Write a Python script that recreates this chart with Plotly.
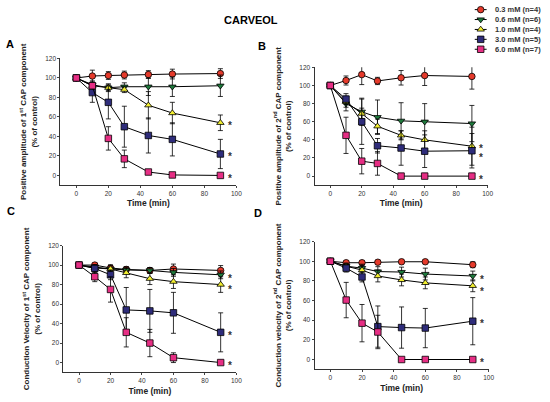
import plotly.graph_objects as go

time = [0, 10, 20, 30, 45, 60, 90]
doses = ["0.3 mM (n=4)", "0.6 mM (n=6)", "1.0 mM (n=4)", "3.0 mM (n=5)", "6.0 mM (n=7)"]
colors = ["#e53a2b", "#1e7a3c", "#f2ee30", "#2e2c7a", "#e62e84"]
symbols = ["circle", "triangle-down", "triangle-up", "square", "square"]

# panel A - positive amplitude 1st CAP
A_vals = [[100, 102, 102.5, 103, 103.5, 104, 104.5],
          [100, 93, 90, 91, 91, 91, 92],
          [100, 92, 90, 88, 72, 64, 54],
          [100, 85, 75, 50, 41, 37, 22],
          [100, 92, 38, 17, 3.5, 0.5, 0]]
A_errs = [[1, 6, 4, 4, 4, 5, 5],
          [1, 4, 4, 4, 9, 10, 11],
          [1, 3, 3, 3, 14, 11, 8],
          [1, 10, 17, 21, 18, 17, 15],
          [1, 2, 12, 9, 1, 0.5, 0]]
A_star_y = [54, 22, 0]

# panel B - positive amplitude 2nd CAP
B_vals = [[100, 105.5, 112, 105, 108.5, 111, 110],
          [100, 80, 71, 65, 61, 60, 58],
          [100, 82, 69, 55, 45, 40, 33],
          [100, 85, 60, 33.5, 31, 27.5, 28],
          [100, 45, 16.5, 14, 0, 0, 0]]
B_errs = [[1, 5, 11, 4, 8, 11, 14],
          [1, 8, 15, 19, 20, 20, 20],
          [1, 6, 6, 8, 5, 10, 21],
          [1, 6, 25, 8, 19, 18, 19],
          [1, 20, 14, 13, 0, 0, 0]]
B_star_y = [34, 24, 0]

# panel C - conduction velocity 1st CAP
C_vals = [[100, 100, 97, 95.5, 94.5, 96, 94.5],
          [100, 98, 96, 95, 94.5, 92.5, 90],
          [100, 97, 96, 92, 86, 83, 80],
          [100, 96.5, 90, 54, 53, 51, 31],
          [100, 88, 75, 31, 20, 5, 0]]
C_errs = [[1, 2, 3, 3, 3, 5, 5],
          [1, 2, 3, 3, 3, 4, 4],
          [1, 3, 4, 5, 6, 7, 8],
          [1, 4, 5, 23, 22, 21, 20],
          [1, 5, 13, 15, 14, 5, 0]]
C_star_y = [89.5, 78, 31, 0]

# panel D - conduction velocity 2nd CAP
D_vals = [[100, 98.5, 98.5, 99, 99.5, 99.5, 96.5],
          [100, 95, 93, 89.5, 89, 87, 85],
          [100, 95, 91, 85, 81, 78, 75],
          [100, 93, 84, 33.5, 32.5, 32, 39],
          [100, 60.5, 37, 28, 0, 0, 0]]
D_errs = [[1, 2, 2, 2, 2, 2, 3],
          [1, 3, 4, 5, 5, 6, 5],
          [1, 3, 5, 6, 6, 6, 6],
          [1, 4, 5, 21, 21, 20, 24],
          [1, 18, 19, 17, 0, 0, 0]]
D_star_y = [85, 72, 40, 0]

FONT = "Arial, Liberation Sans, sans-serif"
W, H = 550, 402


def px(x):
    return x / W


def py(y):
    return 1 - y / H


panels = [
    ("A", A_vals, A_errs, A_star_y, "", [px(61), px(239)], [py(183), py(55)],
     "Positive amplitude of 1<sup>st</sup> CAP component<br>(% of control)"),
    ("B", B_vals, B_errs, B_star_y, "2", [px(318), px(493)], [py(183), py(64)],
     "Positive amplitude of 2<sup>nd</sup> CAP component<br>(% of control)"),
    ("C", C_vals, C_errs, C_star_y, "3", [px(64), px(239)], [py(372), py(244)],
     "Conduction Velocity of 1<sup>st</sup> CAP component<br>(% of control)"),
    ("D", D_vals, D_errs, D_star_y, "4", [px(318), px(494)], [py(369), py(240)],
     "Conduction velocity of 2<sup>nd</sup> CAP component<br>(% of control)"),
]

fig = go.Figure()
layout = {}
annotations = []

for letter, vals, errs, star_y, sfx, xd, yd, ytitle in panels:
    for i in range(5):
        fig.add_trace(go.Scatter(
            x=time, y=vals[i], name=doses[i],
            mode="lines+markers",
            line=dict(color="black", width=1),
            marker=dict(symbol=symbols[i], size=6.5, color=colors[i],
                        line=dict(color="black", width=0.8)),
            error_y=dict(type="data", array=errs[i], color="black",
                         thickness=0.8, width=2.5),
            showlegend=False,
            xaxis="x" + sfx, yaxis="y" + sfx))
    for sy in star_y:
        annotations.append(dict(x=96, y=sy, text="<b>*</b>",
                                showarrow=False, xref="x" + sfx, yref="y" + sfx,
                                xanchor="center", yshift=-3,
                                font=dict(size=10, color="#333")))
    layout["xaxis" + sfx] = dict(
        domain=xd, range=[-10, 100], anchor="y" + sfx,
        tickvals=[0, 20, 40, 60, 80, 100], ticks="outside", ticklen=2,
        showline=True, linecolor="#333", linewidth=1, showgrid=False,
        zeroline=False, tickfont=dict(size=6.5, color="#333"),
        title=dict(text="<b>Time (min)</b>", font=dict(size=8.5, color="#222"),
                   standoff=4))
    layout["yaxis" + sfx] = dict(
        domain=yd, range=[-10, 120], anchor="x" + sfx,
        tickvals=[0, 20, 40, 60, 80, 100, 120], ticks="outside", ticklen=2,
        showline=True, linecolor="#333", linewidth=1, showgrid=False,
        zeroline=False, tickfont=dict(size=6.5, color="#333"),
        title=dict(text="<b>" + ytitle + "</b>", font=dict(size=8, color="#222"),
                   standoff=6))

# hand-drawn legend in its own little axis (pixel units)
for i in range(5):
    row = 5.7 + 10 * i
    fig.add_trace(go.Scatter(
        x=[2, 8, 14], y=[row, row, row], mode="lines",
        line=dict(color="black", width=1), showlegend=False,
        hoverinfo="skip", xaxis="x5", yaxis="y5"))
    fig.add_trace(go.Scatter(
        x=[8], y=[row], mode="markers", name=doses[i],
        marker=dict(symbol=symbols[i], size=6.5, color=colors[i],
                    line=dict(color="black", width=0.8)),
        showlegend=False, xaxis="x5", yaxis="y5"))
    annotations.append(dict(x=20, y=row, xref="x5", yref="y5", text="<b>" + doses[i] + "</b>",
                            showarrow=False, xanchor="left", yanchor="middle",
                            font=dict(size=7.5, color="#333")))
layout["xaxis5"] = dict(domain=[px(478), 1], range=[0, 72], visible=False, anchor="y5")
layout["yaxis5"] = dict(domain=[py(52), 1], range=[52, 0], visible=False, anchor="x5")

letter_pos = {"A": (4, 40), "B": (259, 42), "C": (5, 209), "D": (255, 211)}
for letter, (lx, ly) in letter_pos.items():
    annotations.append(dict(x=px(lx), y=py(ly), xref="paper", yref="paper", text="<b>" + letter + "</b>",
                            showarrow=False, xanchor="left", yanchor="middle",
                            font=dict(size=11, color="black")))

annotations.append(dict(x=px(254), y=py(16), xref="paper", yref="paper", text="<b>CARVEOL</b>",
                        showarrow=False, xanchor="center", yanchor="middle",
                        font=dict(size=11, color="black")))

fig.update_layout(
    width=W, height=H,
    margin=dict(l=0, r=0, t=0, b=0),
    paper_bgcolor="white", plot_bgcolor="white",
    font=dict(family=FONT),
    annotations=annotations,
    showlegend=False,
    **layout)

fig.write_html("out.html", config={"displayModeBar": False},
               post_script="document.body.style.margin='0';")
